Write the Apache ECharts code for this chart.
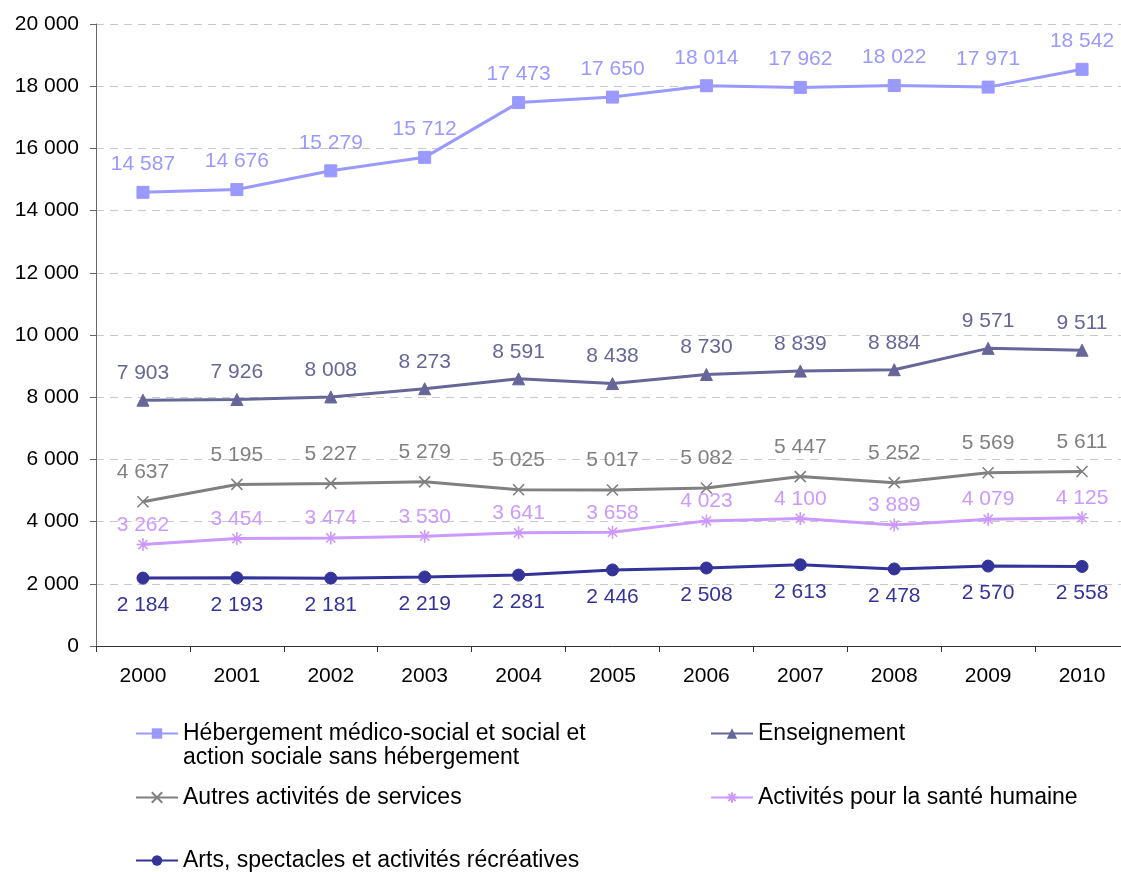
<!DOCTYPE html>
<html><head><meta charset="utf-8">
<script src="https://cdn.jsdelivr.net/npm/echarts@6/dist/echarts.min.js"></script>
<style>html,body{margin:0;padding:0;background:#fff;overflow:hidden}#c{width:1130px;height:872px}</style>
</head><body><div id="c"></div>
<script>
var years = ['2000','2001','2002','2003','2004','2005','2006','2007','2008','2009','2010'];
var hebergement = [14587,14676,15279,15712,17473,17650,18014,17962,18022,17971,18542];
var enseignement = [7903,7926,8008,8273,8591,8438,8730,8839,8884,9571,9511];
var autres = [4637,5195,5227,5279,5025,5017,5082,5447,5252,5569,5611];
var sante = [3262,3454,3474,3530,3641,3658,4023,4100,3889,4079,4125];
var arts = [2184,2193,2181,2219,2281,2446,2508,2613,2478,2570,2558];
var names = ['Hébergement médico-social et social et action sociale sans hébergement','Enseignement','Autres activités de services','Activités pour la santé humaine','Arts, spectacles et activités récréatives'];
var legendLine1 = 'Hébergement médico-social et social et';
var legendLine2 = 'action sociale sans hébergement';

function fmt(v){return String(v).replace(/\B(?=(\d{3})+(?!\d))/g,' ');}
var font = 'Liberation Sans, Arial, sans-serif';
function ser(name, data, color, symbol, size, pos, dist){
  return {name:name,type:'line',data:data,symbol:symbol,symbolSize:size,
    lineStyle:{color:color,width:3},itemStyle:{color:color,borderColor:color},
    label:{show:true,position:pos,distance:dist,color:color,fontSize:21,fontFamily:font,formatter:function(p){return fmt(p.value);}},
    z: 2};
}
var chart = echarts.init(document.getElementById('c'));
var crossPath='path://M0,0L10,10M10,0L0,10';
var starPath='path://M5,0L5,10M0,5L10,5M1.5,1.5L8.5,8.5M8.5,1.5L1.5,8.5';
var series=[
  ser(names[0],hebergement,'#9999FF','rect',12,'top',11),
  ser(names[1],enseignement,'#666699','triangle',12,'top',10),
  ser(names[2],autres,'#808080',crossPath,11,'top',11),
  ser(names[3],sante,'#CC99FF',starPath,13,'top',0),
  ser(names[4],arts,'#333399','circle',12,'bottom',10)
];
series[2].itemStyle={color:'none',borderColor:'#808080',borderWidth:1.6};
series[3].itemStyle={color:'none',borderColor:'#CC99FF',borderWidth:1.6};
function leg(i,left,top){
  return {show:true,data:[names[i]],left:left,top:top,orient:'vertical',itemWidth:42,itemHeight:13,itemGap:0,
    formatter:function(n){return n===names[0]?legendLine1:n;},
    textStyle:{fontSize:23,fontFamily:font,color:'#000',lineHeight:25}};
}
chart.setOption({
  animation:false,
  grid:{left:96,right:1,top:24,bottom:226,containLabel:false},
  xAxis:{type:'category',data:years,boundaryGap:true,
    axisLine:{lineStyle:{color:'#333',width:1}},
    axisTick:{show:true,length:6,lineStyle:{color:'#333'}},
    axisLabel:{fontSize:21,fontFamily:font,color:'#000',margin:20}},
  yAxis:{type:'value',min:0,max:20000,interval:2000,
    axisLine:{show:true,lineStyle:{color:'#666',width:1}},
    axisTick:{show:true,length:6,lineStyle:{color:'#666'}},
    axisLabel:{fontSize:21,fontFamily:font,color:'#000',margin:17,formatter:function(v){return fmt(v);}},
    splitLine:{show:true,lineStyle:{color:'#C8C8C8',type:[8,6],width:1}}},
  legend:[leg(0,130,716),leg(1,705,716),leg(2,130,780),leg(3,705,780),leg(4,130,843)],
  graphic:[{type:'text',left:183,top:746,style:{text:legendLine2,fontSize:23,fontFamily:font,fill:'#000'}}],
  series:series
});
</script></body></html>
